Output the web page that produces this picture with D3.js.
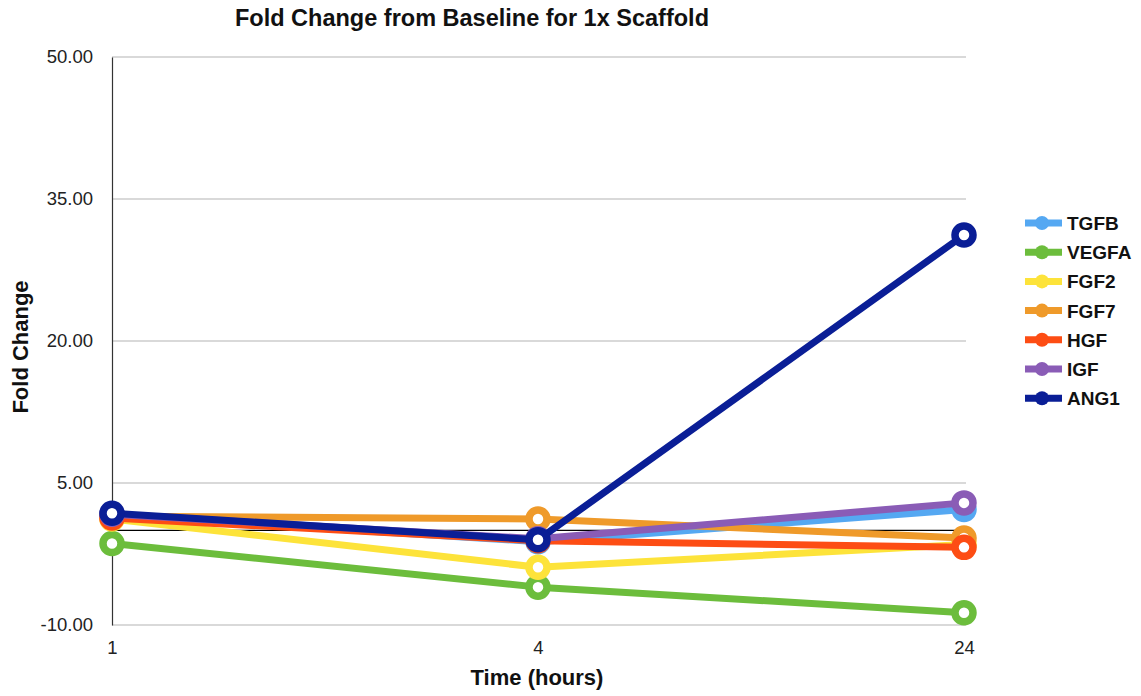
<!DOCTYPE html>
<html>
<head>
<meta charset="utf-8">
<script src="https://cdn.jsdelivr.net/npm/d3@7"></script>
<style>
  html, body { margin: 0; padding: 0; background: #fff; }
  svg { display: block; font-family: "Liberation Sans", Arial, sans-serif; }
</style>
</head>
<body>
<svg id="chart" width="1141" height="696"></svg>
<script>
// Time points (categorical x axis)
const timePoints = ["1", "4", "24"];

// Fold change per growth factor at each time point
const seriesNames = ["TGFB", "VEGFA", "FGF2", "FGF7", "HGF", "IGF", "ANG1"];
const TGFB  = [1.6, -1.2, 2.2];
const VEGFA = [-1.4, -6.0, -8.7];
const FGF2  = [1.2, -3.9, -1.5];
const FGF7  = [1.5, 1.2, -0.8];
const HGF   = [1.3, -1.1, -1.8];
const IGF   = [1.7, -0.9, 2.9];
const ANG1  = [1.8, -1.0, 31.2];

const yTicks = [-10, 5, 20, 35, 50];
const seriesColors = ["#55a8f2", "#6cbd3c", "#fde33a", "#ef9a2a", "#fd4d14", "#8a5cb6", "#0a1e96"];

const seriesValues = [TGFB, VEGFA, FGF2, FGF7, HGF, IGF, ANG1];
const series = seriesNames.map((name, i) => ({
  name, color: seriesColors[i],
  values: seriesValues[i].map((v, j) => ({ t: timePoints[j], v }))
}));

// Plain hyphen for negative tick labels
const fmt = d3.formatLocale({ decimal: ".", thousands: ",", grouping: [3], currency: ["", ""], minus: "-" }).format(".2f");

const svg = d3.select("#chart");

const x = d3.scalePoint().domain(timePoints).range([112, 964]).padding(0);
const y = d3.scaleLinear().domain([-10, 50]).range([625, 57]);

// Horizontal gridlines
svg.append("g").selectAll("line").data(yTicks).join("line")
  .attr("x1", 112).attr("x2", 966)
  .attr("y1", d => y(d)).attr("y2", d => y(d))
  .attr("stroke", "#cccccc").attr("stroke-width", 1.5);

// Zero baseline
svg.append("line")
  .attr("x1", 112).attr("x2", 964)
  .attr("y1", y(0)).attr("y2", y(0))
  .attr("stroke", "#000").attr("stroke-width", 1.2);

// Y axis
const yAxis = svg.append("g").attr("transform", "translate(112,0)")
  .call(d3.axisLeft(y).tickValues(yTicks).tickSize(0).tickPadding(19).tickFormat(fmt));
yAxis.select(".domain").attr("stroke", "#333").attr("stroke-width", 1.2);
yAxis.selectAll("text").attr("font-size", 18.5).attr("fill", "#222")
  .attr("font-family", "Liberation Sans, Arial, sans-serif");

// X axis
const xAxis = svg.append("g").attr("transform", "translate(0,625)")
  .call(d3.axisBottom(x).tickSize(0).tickPadding(16));
xAxis.select(".domain").remove();
xAxis.selectAll("text").attr("font-size", 18.5).attr("fill", "#222")
  .attr("font-family", "Liberation Sans, Arial, sans-serif");

// Lines and markers
const line = d3.line().x(d => x(d.t)).y(d => y(d.v));
const gSeries = svg.append("g").selectAll("g").data(series).join("g");
gSeries.append("path")
  .attr("d", d => line(d.values))
  .attr("fill", "none").attr("stroke", d => d.color)
  .attr("stroke-width", 7).attr("stroke-linejoin", "round");
gSeries.selectAll("circle").data(d => d.values.map(p => ({ ...p, color: d.color }))).join("circle")
  .attr("cx", d => x(d.t)).attr("cy", d => y(d.v))
  .attr("r", 9).attr("fill", "#fff")
  .attr("stroke", d => d.color).attr("stroke-width", 7.5);

// Title
svg.append("text").attr("x", 472).attr("y", 26)
  .attr("text-anchor", "middle").attr("font-size", 23.5).attr("font-weight", "bold")
  .attr("fill", "#111").text("Fold Change from Baseline for 1x Scaffold");

// Axis titles
svg.append("text").attr("x", 537).attr("y", 685)
  .attr("text-anchor", "middle").attr("font-size", 22).attr("font-weight", "bold")
  .attr("fill", "#111").text("Time (hours)");
svg.append("text").attr("transform", "translate(28,347) rotate(-90)")
  .attr("text-anchor", "middle").attr("font-size", 22).attr("font-weight", "bold")
  .attr("fill", "#111").text("Fold Change");

// Legend
const legend = svg.append("g").selectAll("g").data(series).join("g")
  .attr("transform", (d, i) => `translate(1025,${223 + i * 29.2})`);
legend.append("line").attr("x1", 0).attr("x2", 37).attr("y1", 0).attr("y2", 0)
  .attr("stroke", d => d.color).attr("stroke-width", 7);
legend.append("circle").attr("cx", 17).attr("cy", 0).attr("r", 7)
  .attr("fill", d => d.color);
legend.append("text").attr("x", 42).attr("y", 7)
  .attr("font-size", 19).attr("font-weight", "bold").attr("fill", "#111")
  .text(d => d.name);
</script>
</body>
</html>
